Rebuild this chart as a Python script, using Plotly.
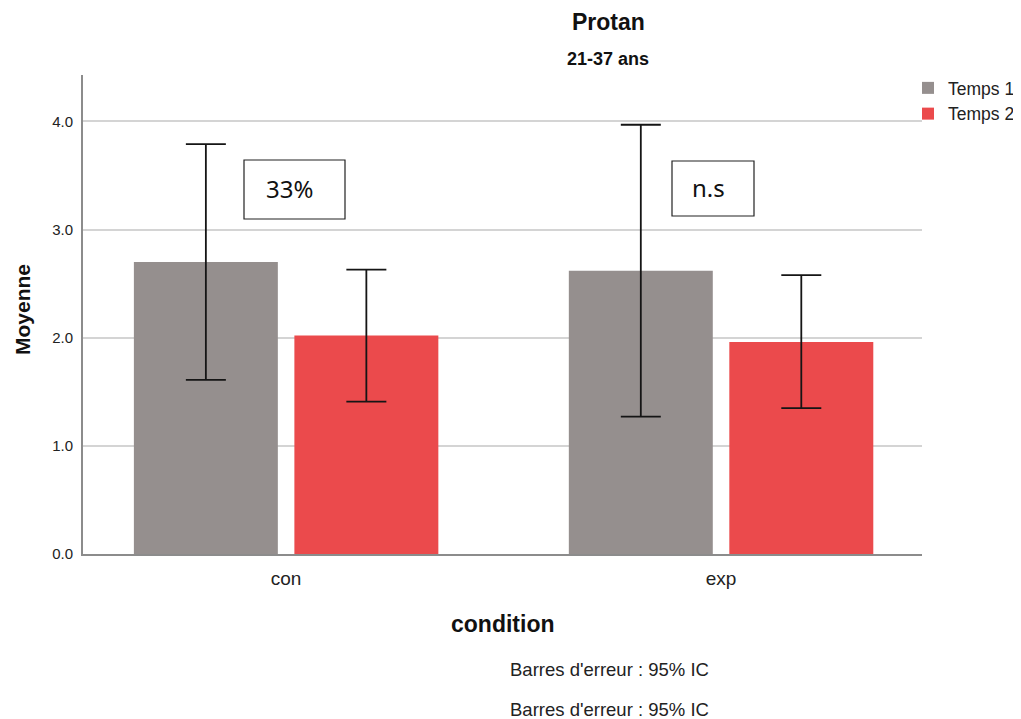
import plotly.graph_objects as go

# ---- data ----
categories = ["con", "exp"]
series_names = ["Temps 1", "Temps 2"]
means_t1 = [2.70, 2.62]
means_t2 = [2.02, 1.96]
ci_high_t1 = [3.79, 3.97]
ci_low_t1 = [1.61, 1.27]
ci_high_t2 = [2.63, 2.58]
ci_low_t2 = [1.41, 1.35]
y_ticks = [0.0, 1.0, 2.0, 3.0, 4.0]
box_labels = ["33%", "n.s"]

colors = ["#958f8e", "#eb4a4c"]
FONT = "Liberation Sans"

OFF = 8  # page body margin
W, H = 1021 - OFF, 719 - OFF
# plot area in reference-pixel coordinates
PX0, PX1, PY0, PY1 = 83, 922, 75, 554
L, T = PX0 - OFF, PY0 - OFF
R, B = W - (PX1 - OFF), H - (PY1 - OFF)
PW, PH = PX1 - PX0, PY1 - PY0


def px_x(px):
    return (px - PX0) / PW


def px_y(py):
    return (PY1 - py) / PH


fig = go.Figure()
for name, m, hi, lo, c in [
    (series_names[0], means_t1, ci_high_t1, ci_low_t1, colors[0]),
    (series_names[1], means_t2, ci_high_t2, ci_low_t2, colors[1]),
]:
    fig.add_trace(go.Bar(
        x=categories, y=m, name=name,
        marker=dict(color=c, line=dict(width=0)),
        error_y=dict(type="data", symmetric=False,
                     array=[h - v for h, v in zip(hi, m)],
                     arrayminus=[v - l for v, l in zip(m, lo)],
                     color="#151515", thickness=1.8, width=20),
    ))

fig.update_layout(
    width=W, height=H,
    margin=dict(l=L, r=R, t=T, b=B, autoexpand=False),
    paper_bgcolor="white", plot_bgcolor="white",
    barmode="group", bargap=0.262, bargroupgap=0.103,
    font=dict(family=FONT, color="#222"),
    showlegend=True,
    legend=dict(x=px_x(908), xanchor="left", y=px_y(70), yanchor="top",
                font=dict(size=17.5, color="#222", family=FONT),
                itemwidth=30, tracegroupgap=0, bgcolor="rgba(0,0,0,0)",
                borderwidth=0),
    xaxis=dict(range=[-0.467, 1.462], showgrid=False,
               showline=True, linecolor="#8c8c8c", linewidth=2,
               ticks="", tickfont=dict(size=19, color="#222"),
               ticklabelstandoff=6, zeroline=False),
    yaxis=dict(range=[0, 4.43], tickvals=y_ticks, tickformat=".1f",
               showgrid=True, gridcolor="#d4d4d4", gridwidth=1.5,
               showline=True, linecolor="#8c8c8c", linewidth=2,
               ticks="", ticklen=0, tickfont=dict(size=15, color="#222"),
               ticklabelstandoff=5, zeroline=False),
)


def note(text, x, y, size, color="#111", angle=0, family=FONT):
    fig.add_annotation(text=text, x=px_x(x), y=px_y(y), xref="paper", yref="paper",
                       xanchor="center", yanchor="middle", showarrow=False,
                       textangle=angle, font=dict(size=size, color=color, family=family))


# titles & texts
note("<b>Protan</b>", 608, 22, 23)
note("<b>21-37 ans</b>", 608, 59, 18)
note("<b>Moyenne</b>", 22, 310, 21, angle=-90)
note("<b>condition</b>", 502, 624, 23)
for py in (669, 709):
    note("Barres d'erreur : 95% IC", 609, py, 18.5, color="#222")

# boxed labels
boxes = [(244, 160, 345, 219), (672, 161, 754, 216)]
for (x0, y0, x1, y1), lab in zip(boxes, box_labels):
    fig.add_shape(type="rect", xref="paper", yref="paper",
                  x0=px_x(x0), x1=px_x(x1), y0=px_y(y0), y1=px_y(y1),
                  line=dict(color="#222", width=1.2), fillcolor="white", layer="above")
    note(lab, (x0 + x1) / 2 - 5, (y0 + y1) / 2 - 1, 24, family="Noto Sans")

fig.write_html("out.html")
